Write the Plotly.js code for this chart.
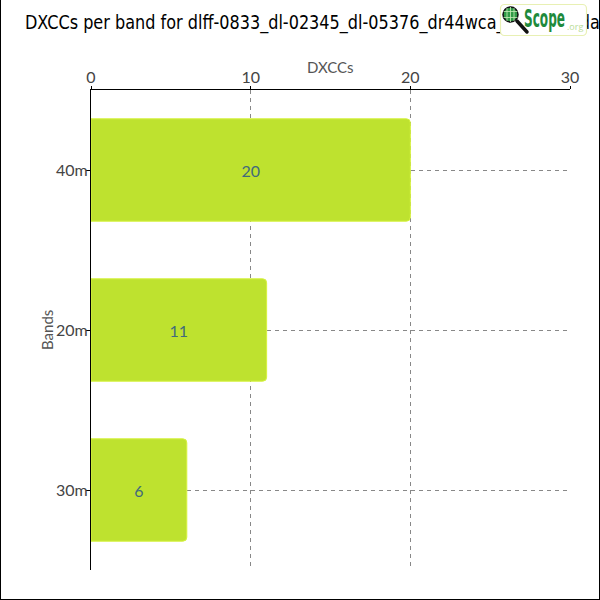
<!DOCTYPE html>
<html>
<head>
<meta charset="utf-8">
<script src="https://cdn.plot.ly/plotly-3.0.1.min.js"></script>
<style>
html,body{margin:0;padding:0;background:#fff;}
#wrap{position:relative;width:600px;height:600px;box-sizing:border-box;border-left:1px solid #000;border-right:1px solid #000;border-bottom:1px solid #000;overflow:hidden;}
#chart{position:absolute;left:-1px;top:0;width:600px;height:600px;}
#logo{position:absolute;left:-1px;top:0;width:600px;height:60px;pointer-events:none;}
</style>
</head>
<body>
<div id="wrap">
<div id="chart"></div>
<svg id="logo" width="600" height="60" xmlns="http://www.w3.org/2000/svg">
  <rect x="500.5" y="4.5" width="86" height="31" rx="4" ry="4" fill="#ffffff" stroke="#e8f0b4" stroke-width="1.2"/>
  <line x1="517" y1="21" x2="527" y2="32" stroke="#111" stroke-width="3.5" stroke-linecap="round"/>
  <circle cx="510.5" cy="14.5" r="7.5" fill="#2e9a45" stroke="#111" stroke-width="1.5"/>
  <line x1="507" y1="8" x2="507" y2="21" stroke="#c8ecb8" stroke-width="0.8"/>
  <line x1="510.5" y1="7" x2="510.5" y2="22" stroke="#c8ecb8" stroke-width="0.8"/>
  <line x1="514" y1="8" x2="514" y2="21" stroke="#c8ecb8" stroke-width="0.8"/>
  <line x1="503.5" y1="11.5" x2="517.5" y2="11.5" stroke="#c8ecb8" stroke-width="0.8"/>
  <line x1="503.5" y1="17.5" x2="517.5" y2="17.5" stroke="#c8ecb8" stroke-width="0.8"/>
  <text x="524" y="27" font-family="'DejaVu Sans', sans-serif" font-weight="bold" font-size="25" fill="#1e8a3c" textLength="41" lengthAdjust="spacingAndGlyphs">Scope</text>
  <text x="567" y="30" font-family="'Open Sans', sans-serif" font-size="9" fill="#b8dc98">.org</text>
</svg>
</div>
<script>
const bands = ['40m', '20m', '30m'];
const dxccs = [20, 11, 6];
const xTicks = [0, 10, 20, 30];
const titleText = 'DXCCs per band for dlff-0833_dl-02345_dl-05376_dr44wca_2023-07_data';
const xTitle = 'DXCCs';
const yTitle = 'Bands';

const lightFont = '"Lato", "Open Sans", sans-serif';
const tickFont = {family: lightFont, size: 16, color: '#444'};
const titleFamily = '"DejaVu Sans", sans-serif';
const titleSize = 19;

const trace = {
  type: 'bar',
  orientation: 'h',
  y: bands,
  x: dxccs,
  text: dxccs.map(String),
  textposition: 'inside',
  insidetextanchor: 'middle',
  textfont: {family: lightFont, size: 16, color: '#416a7c'},
  marker: {color: '#bee22f', line: {color: '#d6f23e', width: 1}, cornerradius: 4},
  width: 0.64,
  hoverinfo: 'none'
};

const plotH = 480, plotW = 479, mL = 91, mT = 90;

const layout = {
  width: 600, height: 600,
  margin: {l: mL, r: 30, t: mT, b: 30},
  paper_bgcolor: 'rgba(0,0,0,0)',
  plot_bgcolor: 'rgba(0,0,0,0)',
  showlegend: false,
  title: {
    text: titleText,
    x: 25/600, xanchor: 'left', xref: 'container',
    y: 1 - 22/600, yanchor: 'middle', yref: 'container',
    font: {family: titleFamily, size: titleSize, color: '#000'}
  },
  xaxis: {
    side: 'top',
    range: [0, 30],
    tickvals: xTicks,
    ticktext: xTicks.map(String),
    ticks: 'outside', ticklen: 3, tickcolor: '#000',
    ticklabelstandoff: -3,
    showline: true, linecolor: '#000', linewidth: 1,
    showgrid: true, gridcolor: '#888', griddash: '4px,4px', gridwidth: 1,
    zeroline: false,
    tickfont: tickFont
  },
  yaxis: {
    type: 'category',
    categoryorder: 'array',
    categoryarray: bands,
    autorange: 'reversed',
    ticks: 'outside', ticklen: 4, tickcolor: '#000',
    ticklabelstandoff: -5,
    showline: true, linecolor: '#000', linewidth: 1,
    showgrid: true, gridcolor: '#888', griddash: '4px,4px', gridwidth: 1,
    tickfont: tickFont
  },
  annotations: [
    {text: xTitle, xref: 'paper', yref: 'paper', x: 0.5, y: 1 + (mT - 67) / plotH,
     xanchor: 'center', yanchor: 'middle', showarrow: false,
     font: {family: lightFont, size: 15, color: '#555'}},
    {text: yTitle, xref: 'paper', yref: 'paper', x: (47 - mL) / plotW, y: 0.5,
     xanchor: 'center', yanchor: 'middle', showarrow: false, textangle: -90,
     font: {family: lightFont, size: 15, color: '#555'}}
  ]
};

Plotly.newPlot('chart', [trace], layout, {displayModeBar: false, staticPlot: true}).then(function () {
  // narrow the title glyphs so that its visible part spans the same width as the reference
  const t = document.querySelector('#chart .gtitle');
  if (!t) return;
  const ctx = document.createElement('canvas').getContext('2d');
  ctx.font = titleSize + 'px ' + titleFamily;
  const prefix = 'DXCCs per band for dlff-0833_dl-02345_dl-05376_dr44wca_2';
  const w = ctx.measureText(prefix).width;
  const s = 490 / w;
  const x0 = parseFloat(t.getAttribute('x')) || 25;
  t.setAttribute('transform', 'translate(' + x0 + ',0) scale(' + s + ',1) translate(' + (-x0) + ',0)');
});
</script>
</body>
</html>
